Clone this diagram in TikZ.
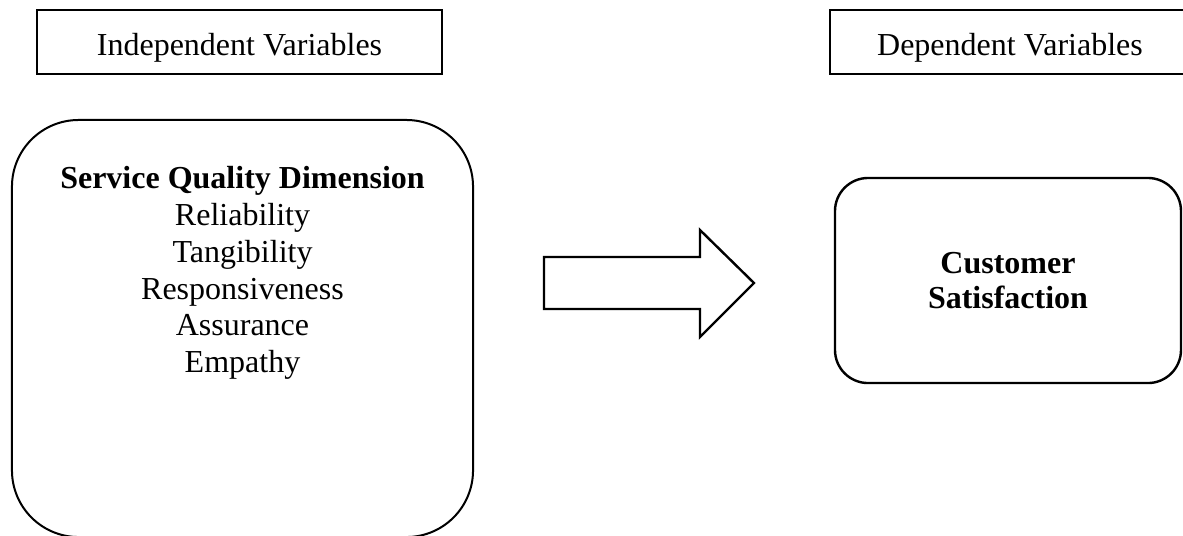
\documentclass[tikz,border=0pt]{standalone}
\usepackage{fontspec}
\setmainfont{Liberation Serif}
\begin{document}
\begin{tikzpicture}[x=0.375pt,y=-0.375pt,
  font=\fontsize{12}{13.8}\selectfont,
  headbox/.style={draw, line width=1pt, rectangle, inner sep=0pt,
    minimum height=24pt, text height=9.8pt, text depth=0pt},
  bigbox/.style={draw, line width=0.75pt, rectangle, rounded corners=25pt,
    minimum width=172.9pt, minimum height=156.4pt},
  resultbox/.style={draw, line width=0.9pt, rectangle, rounded corners=12.4pt,
    minimum width=129.75pt, minimum height=76.9pt, inner sep=0pt, align=center,
    font=\fontsize{12}{13.2}\selectfont\bfseries},
  blockarrow/.style={draw, line width=0.9pt, line join=miter}]
\useasboundingbox (0,0) rectangle (1183,535);
\clip (0,0) rectangle (1183,535);

% column headings
\node[headbox, minimum width=151.9pt] (iv) at (239.5,42) {Independent Variables};
\node[headbox, minimum width=135pt] (dv) at (1010,42) {Dependent Variables};

% service quality dimensions
\node[bigbox] (sq) at (242.5,328.5) {};
\node[anchor=north, inner sep=0pt, align=center] (sqtext) at (242.5,166)
  {\textbf{Service Quality Dimension}\\Reliability\\Tangibility\\Responsiveness\\Assurance\\Empathy};

% outcome
\node[resultbox] (cs) at (1008,280.5) {Customer\\Satisfaction};

% block arrow between the two
\draw[blockarrow] (544,257) -- (700,257) -- (700,230) -- (754,283)
  -- (700,337) -- (700,309) -- (544,309) -- cycle;
\end{tikzpicture}
\end{document}
